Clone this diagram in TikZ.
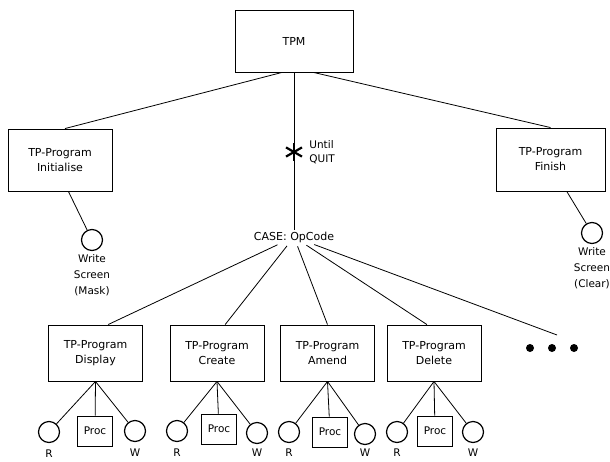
\documentclass[tikz,border=0pt]{standalone}
\usepackage{fontspec}
\setmainfont{DejaVu Sans}
\usetikzlibrary{positioning}

\begin{document}
\begin{tikzpicture}[x=1pt, y=-1pt,
    module/.style={rectangle, draw, line width=0.9pt, align=center, minimum width=94pt, minimum height=56pt, font=\fontsize{11}{15}\selectfont},
    proc/.style={rectangle, draw, line width=0.9pt, minimum width=35pt, minimum height=30pt, inner sep=2pt, font=\fontsize{10.5}{13}\selectfont},
    io/.style={circle, draw, line width=1.2pt, minimum size=21pt, inner sep=0pt},
    tag/.style={align=center, inner sep=1pt, font=\fontsize{10.5}{16}\selectfont},
    link/.style={line width=0.8pt},
    more/.style={circle, fill, minimum size=8pt, inner sep=0pt}
]

\useasboundingbox (0,0) rectangle (610,461);

% Draw top level
\node[module, minimum width=118pt, minimum height=62pt] (tpm) at (294,41) {TPM};

\node[module, minimum width=104pt, minimum height=62pt] (init) at (60,160) {TP-Program\\Initialise};
\node[io] (initw) at (92,240) {};
\node[tag, below=2pt of initw] (initwl) {Write\\Screen\\(Mask)};

\node[module, minimum width=109pt, minimum height=63pt] (fin) at (550.5,159.5) {TP-Program\\Finish};
\node[io] (finw) at (592,233) {};
\node[tag, below=2pt of finw] (finwl) {Write\\Screen\\(Clear)};

% Draw iteration
\node[circle, minimum size=18pt, inner sep=0pt] (loop) at (294,152) {};
\node[tag, align=left, font=\fontsize{10.5}{14}\selectfont, right=5pt of loop] (until) {Until\\QUIT};
\node[tag, font=\fontsize{11}{14}\selectfont] (case) at (294,237) {CASE: OpCode};

% Draw programs
\node[module] (disp) at (95.5,353) {TP-Program\\Display};
\node[module] (crt) at (217,353) {TP-Program\\Create};
\node[module] (amd) at (327.5,353) {TP-Program\\Amend};
\node[module] (del) at (434,353) {TP-Program\\Delete};

\coordinate (etc) at (557,335);
\node[more] (dot1) at (530,348) {};
\node[more] (dot2) at (552,348) {};
\node[more] (dot3) at (574,348) {};

% Draw reads, procs and writes
\node[io] (dispr) at (49,432) {};
\node[proc] (dispp) at (95,431) {Proc};
\node[io] (dispw) at (135,431) {};
\node[tag, below=6pt of dispr] (disprl) {R};
\node[tag, below=6pt of dispw] (dispwl) {W};

\node[io] (crtr) at (177,431) {};
\node[proc] (crtp) at (219,429) {Proc};
\node[io] (crtw) at (257,433) {};
\node[tag, below=6pt of crtr] (crtrl) {R};
\node[tag, below=4pt of crtw] (crtwl) {W};

\node[io] (amdr) at (289,432) {};
\node[proc] (amdp) at (330,432) {Proc};
\node[io] (amdw) at (365,434) {};
\node[tag, below=5pt of amdr] (amdrl) {R};
\node[tag, below=3pt of amdw] (amdwl) {W};

\node[io] (delr) at (397,432) {};
\node[proc] (delp) at (435,431) {Proc};
\node[io] (delw) at (473,432) {};
\node[tag, below=5pt of delr] (delrl) {R};
\node[tag, below=5pt of delw] (delwl) {W};

% Draw connectors
\draw[link] (tpm.-111) -- (init.81);
\draw[link] (tpm.-58) -- (fin.north);
\draw[link] (tpm.south) -- (case.north);
\draw[line width=2.2pt] (loop.90) -- (loop.270);
\draw[line width=2.2pt] (loop.30) -- (loop.210);
\draw[line width=2.2pt] (loop.150) -- (loop.330);

\draw[link] (init.-75) -- (initw);
\draw[link] (fin.-63) -- (finw);

\draw[link, shorten <=3pt] (case) -- (disp.66);
\draw[link, shorten <=3pt] (case) -- (crt.74);
\draw[link, shorten <=3pt] (case) -- (amd.north);
\draw[link, shorten <=3pt] (case) -- (del.104);
\draw[link, shorten <=3pt] (case) -- (etc);

\draw[link] (disp.south) -- (dispr);
\draw[link] (disp.south) -- (dispp);
\draw[link] (disp.south) -- (dispw);
\draw[link] (crt.south) -- (crtr);
\draw[link] (crt.south) -- (crtp);
\draw[link] (crt.south) -- (crtw);
\draw[link] (amd.south) -- (amdr);
\draw[link] (amd.south) -- (amdp);
\draw[link] (amd.south) -- (amdw);
\draw[link] (del.south) -- (delr);
\draw[link] (del.south) -- (delp);
\draw[link] (del.south) -- (delw);

\end{tikzpicture}
\end{document}
